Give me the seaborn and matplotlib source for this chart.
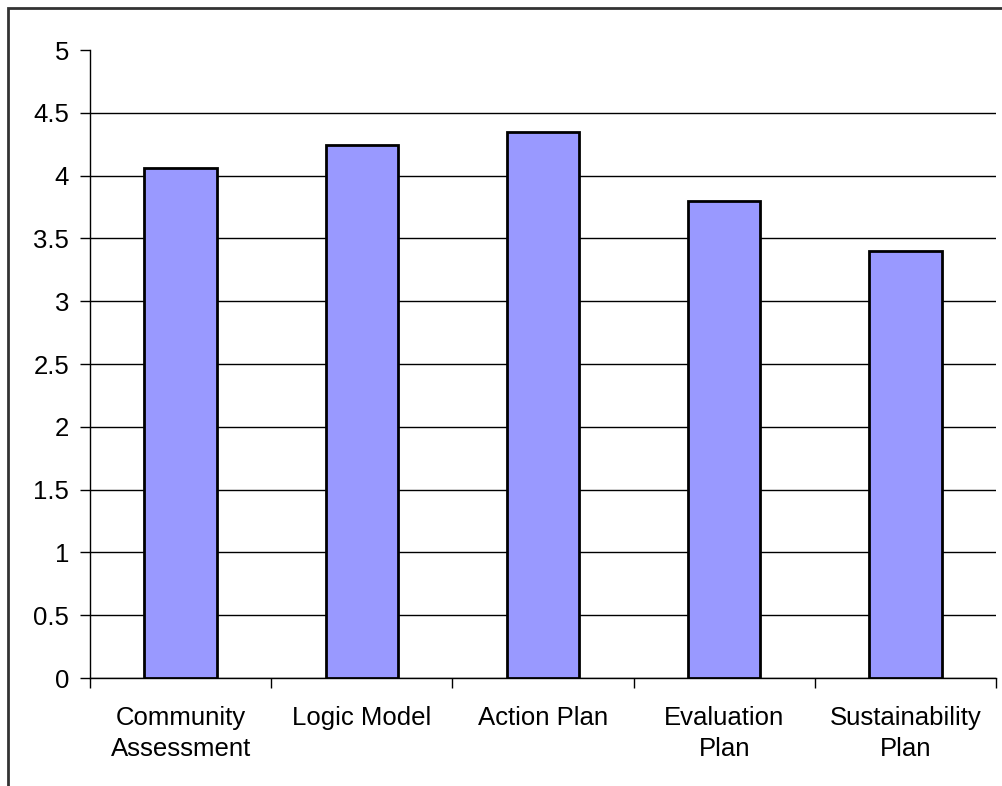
import matplotlib
matplotlib.use("Agg")
import matplotlib.pyplot as plt
from matplotlib.patches import Rectangle
import seaborn as sns
import pandas as pd
import numpy as np

categories = ["Community\nAssessment", "Logic Model", "Action Plan", "Evaluation\nPlan", "Sustainability\nPlan"]
scores = [4.06, 4.24, 4.35, 3.80, 3.40]
y_ticks = [0, 0.5, 1, 1.5, 2, 2.5, 3, 3.5, 4, 4.5, 5]
y_tick_labels = ["0", "0.5", "1", "1.5", "2", "2.5", "3", "3.5", "4", "4.5", "5"]

sns.set_style("white")
plt.rcParams["font.family"] = ["Liberation Sans", "DejaVu Sans"]
plt.rcParams["text.color"] = "black"
plt.rcParams["xtick.color"] = "black"
plt.rcParams["ytick.color"] = "black"

df = pd.DataFrame({"category": categories, "score": scores})

W, H = 1002, 786
fig = plt.figure(figsize=(W / 100, H / 100), dpi=100)
ax = fig.add_axes([90 / W, 1 - 678 / H, (996 - 90) / W, (678 - 50) / H])

sns.barplot(data=df, x="category", y="score", ax=ax, color="#9999FF",
            saturation=1, width=0.4, edgecolor="black", linewidth=2, zorder=3)

ax.set_xlim(-0.5, len(categories) - 0.5)
ax.set_ylim(0, 5)
ax.set_xlabel("")
ax.set_ylabel("")

# y axis
ax.set_yticks(y_ticks)
ax.set_yticklabels(y_tick_labels, fontsize=18.5)
ax.yaxis.grid(True, color="black", linewidth=1, zorder=0)
ax.set_axisbelow(True)
# no gridline along the top of the plot area
ax.get_ygridlines()[-1].set_visible(False)

# x axis: ticks at category boundaries, labels centred under bars
ax.set_xticks(np.arange(-0.5, len(categories), 1.0))
ax.set_xticklabels([])
ax.set_xticks(np.arange(len(categories)), minor=True)
ax.set_xticklabels(categories, minor=True, fontsize=18.5, linespacing=1.4)
ax.tick_params(axis="x", which="minor", length=0, pad=20)
ax.tick_params(axis="x", which="major", direction="out", length=7, width=1, color="black", bottom=True)
ax.tick_params(axis="y", direction="out", length=7, width=1, color="black", left=True, pad=8)

for side in ["top", "right"]:
    ax.spines[side].set_visible(False)
for side in ["left", "bottom"]:
    ax.spines[side].set_color("black")
    ax.spines[side].set_linewidth(1)

# chart frame
fig.patches.append(Rectangle((8 / W, -0.1), 1.2, 1 - 8 / H + 0.1, transform=fig.transFigure,
                             fill=False, edgecolor="#333333", linewidth=2))

fig.savefig("out.png", dpi=100, facecolor="white")
